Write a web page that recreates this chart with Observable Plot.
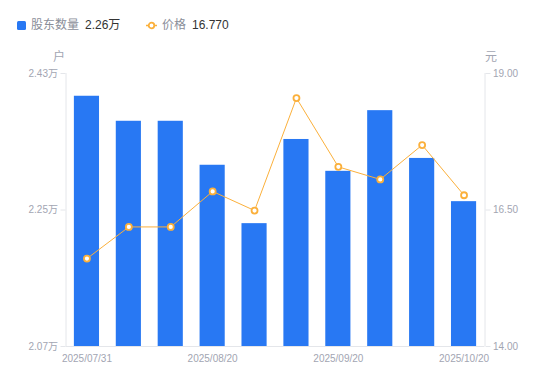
<!DOCTYPE html>
<html><head><meta charset="utf-8">
<script src="https://cdn.jsdelivr.net/npm/d3@7"></script>
<script src="https://cdn.jsdelivr.net/npm/@observablehq/plot@0.6"></script>
<style>
body{margin:0;background:#fff;font-family:"Liberation Sans","Noto Sans CJK SC",sans-serif;}
#legend{position:relative;height:45px;font-size:12px;}
#legend .sw{position:absolute;left:17px;top:21px;width:9px;height:9px;background:#2878f3;border-radius:1.5px;}
#legend .t{position:absolute;top:17px;line-height:16px;white-space:nowrap;}
#legend .g{color:#8a8e99;}
#legend .v{color:#333;}
</style></head><body>
<div id="legend">
  <div class="sw"></div>
  <span class="t g" style="left:31px">股东数量</span>
  <span class="t v" style="left:85px">2.26万</span>
  <svg style="position:absolute;left:145px;top:19px" width="13" height="13"><line x1="1" y1="6.5" x2="12" y2="6.5" stroke="#fbb03b" stroke-width="1.5"/><circle cx="6.5" cy="6.5" r="2.8" fill="#fff" stroke="#fbb03b" stroke-width="1.8"/></svg>
  <span class="t g" style="left:162px">价格</span>
  <span class="t v" style="left:192px">16.770</span>
</div>
<div id="chart"></div>
<script>
const dates = ["2025/07/31","2025/08/10","2025/08/15","2025/08/20","2025/08/31","2025/09/10","2025/09/20","2025/09/30","2025/10/10","2025/10/20"];
const holders = [2.400, 2.367, 2.367, 2.309, 2.232, 2.343, 2.301, 2.381, 2.318, 2.261];
const prices = [15.61, 16.19, 16.19, 16.84, 16.49, 18.55, 17.29, 17.06, 17.69, 16.77];
const leftTicks = [2.07, 2.25, 2.43];
const rightTicks = [14.00, 16.50, 19.00];
const xTickIdx = [0, 3, 6, 9];

const lMin = leftTicks[0], lMax = leftTicks[leftTicks.length-1];
const rMin = rightTicks[0], rMax = rightTicks[rightTicks.length-1];
const toL = p => lMin + (p - rMin) / (rMax - rMin) * (lMax - lMin);
const toR = v => rMin + (v - lMin) / (lMax - lMin) * (rMax - rMin);

const data = dates.map((d, i) => ({i, date: d, h: holders[i], p: prices[i], pl: toL(prices[i])}));
const axisColor = "#e4e6ea";
const labelColor = "#a2a5b2";

const chart = Plot.plot({
  width: 550, height: 336,
  marginLeft: 65.5, marginRight: 65.5, marginTop: 28, marginBottom: 35,
  style: {fontFamily: '"Liberation Sans","Noto Sans CJK SC",sans-serif', fontSize: "10px", background: "#fff"},
  x: {domain: [-0.5, dates.length - 0.5]},
  y: {domain: [lMin, lMax]},
  marks: [
    Plot.rect(data, {x1: d => d.i - 0.3, x2: d => d.i + 0.3, y1: lMin, y2: "h", fill: "#2878f3"}),
    Plot.ruleX([-0.5, dates.length - 0.5], {y1: lMin, y2: lMax, stroke: axisColor}),
    Plot.ruleY([lMin], {stroke: axisColor}),
    Plot.line(data, {x: "i", y: "pl", stroke: "#fbb03b", strokeWidth: 1}),
    Plot.dot(data, {x: "i", y: "pl", r: 3, fill: "#fff", stroke: "#fbb03b", strokeWidth: 1.8}),
    Plot.axisY(leftTicks, {anchor: "left", tickSize: 5, tickPadding: 3, stroke: axisColor, color: labelColor, tickFormat: d => d.toFixed(2) + "万", label: null}),
    Plot.axisY(rightTicks.map(toL), {anchor: "right", tickSize: 5, tickPadding: 3, stroke: axisColor, color: labelColor, tickFormat: d => toR(d).toFixed(2), label: null}),
    Plot.axisX(xTickIdx, {anchor: "bottom", tickSize: 0, tickPadding: 8, color: labelColor, tickFormat: i => dates[i], label: null}),
    Plot.text(["户"], {frameAnchor: "top-left", lineAnchor: "middle", textAnchor: "middle", dx: -7, dy: -16, fill: labelColor, fontSize: 12}),
    Plot.text(["元"], {frameAnchor: "top-right", lineAnchor: "middle", textAnchor: "middle", dx: 6, dy: -16, fill: labelColor, fontSize: 12})
  ]
});
document.getElementById("chart").appendChild(chart);
</script>
</body></html>
